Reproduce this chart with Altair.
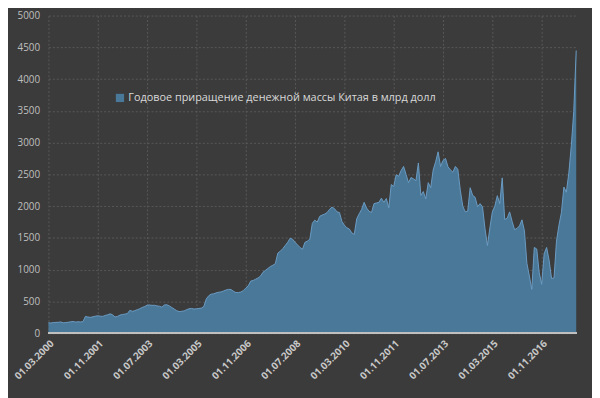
import altair as alt
import pandas as pd

series_name = "Годовое приращение денежной массы Китая в млрд долл"

# monthly values, 01.03.2000 ... 01.01.2018 (bn USD)
values = [
    165, 160, 168, 170, 172, 178, 163, 168, 172, 180, 185, 175, 180, 178, 182,
    265, 255, 250, 258, 268, 275, 268, 265, 280, 290, 305, 290, 255, 265, 285,
    295, 300, 310, 360, 345, 355, 370, 385, 405, 420, 440, 445, 438, 440, 430,
    425, 410, 445, 448, 430, 405, 380, 355, 340, 345, 350, 370, 385, 390, 380,
    385, 390, 395, 420, 540, 590, 615, 620, 635, 645, 650, 665, 680, 690, 688,
    660, 640, 640, 648, 670, 710, 745, 820, 830, 850, 870, 900, 960, 990, 1020,
    1050, 1070, 1095, 1260, 1290, 1330, 1380, 1430, 1495, 1480, 1430, 1390, 1350, 1320, 1430,
    1450, 1480, 1730, 1780, 1750, 1840, 1860, 1875, 1900, 1950, 1985, 1960, 1910, 1900, 1760,
    1700, 1660, 1640, 1580, 1555, 1800, 1880, 1950, 2060, 1970, 1920, 1900, 2040, 2050, 2060,
    2125, 2060, 2120, 1975, 2340, 2310, 2495, 2470, 2560, 2625, 2500, 2370, 2450, 2430, 2400,
    2680, 2170, 2230, 2115, 2370, 2290, 2570, 2700, 2855, 2625, 2720, 2750, 2620, 2570, 2535,
    2625, 2580, 2250, 2000, 1910, 1920, 2290, 2170, 2140, 1990, 2040, 1990, 1650, 1380, 1660,
    1910, 2000, 2165, 2040, 2445, 1790, 1810, 1910, 1760, 1630, 1650, 1690, 1785, 1610, 1100,
    900, 690, 1350, 1325, 950, 770, 1250, 1350, 1150, 860, 870, 1450, 1700, 1900, 2300,
    2220, 2520, 2950, 3490, 4450,
]

tick_labels = [
    "01.03.2000", "01.11.2001", "01.07.2003", "01.03.2005", "01.11.2006",
    "01.07.2008", "01.03.2010", "01.11.2011", "01.07.2013", "01.03.2015",
    "01.11.2016",
]

df = pd.DataFrame({
    "i": list(range(len(values))),
    "v": values,
    "series": [series_name] * len(values),
})

label_array = "[" + ",".join("'" + t + "'" for t in tick_labels) + "]"
tick_vals = [k * 20 for k in range(len(tick_labels))]

x = alt.X(
    "i:Q",
    scale=alt.Scale(domain=[0, len(values) - 1], nice=False, zero=False),
    axis=alt.Axis(
        values=tick_vals,
        labelExpr=label_array + "[round(datum.value/20)]",
        labelAngle=-45,
        labelAlign="right",
        labelBaseline="top",
        labelFontSize=10,
        labelFontWeight="bold",
        labelColor="#c8c8c8",
        labelPadding=5,
        labelFont="Open Sans",
        ticks=False,
        domain=False,
        grid=True,
        gridColor="#585858",
        gridDash=[2, 2],
        title=None,
        labelOverlap=False,
    ),
)
y = alt.Y(
    "v:Q",
    scale=alt.Scale(domain=[0, 5000], nice=False),
    axis=alt.Axis(
        values=list(range(0, 5001, 500)),
        format="d",
        labelFontSize=10,
        labelColor="#bfbfbf",
        labelFont="Open Sans",
        labelPadding=9,
        ticks=False,
        domain=False,
        grid=True,
        gridColor="#585858",
        gridDash=[2, 2],
        title=None,
    ),
)

area = alt.Chart(df).mark_area(opacity=1).encode(
    x=x,
    y=y,
    color=alt.Color(
        "series:N",
        scale=alt.Scale(range=["#4a7899"]),
        legend=alt.Legend(
            title=None,
            orient="none",
            legendX=67,
            legendY=78,
            symbolType="square",
            symbolSize=70,
            symbolStrokeWidth=0,
            labelColor="#d9d9d9",
            labelFontSize=11,
            labelFont="Open Sans",
            labelLimit=500,
            labelOffset=3,
            padding=0,
        ),
    ),
)

line = alt.Chart(df).mark_line(color="#6b9bc3", strokeWidth=1).encode(x=x, y=y)

base = alt.Chart(df).mark_rule(color="#c0c0c0", strokeWidth=1.5).encode(
    x=alt.value(0), x2=alt.value(535), y=alt.value(322)
)

chart = (
    alt.layer(area, line, base)
    .properties(
        width=535,
        height=322,
        background="#3b3b3b",
        autosize=alt.AutoSizeParams(type="none"),
        padding={"left": 41, "top": 5, "right": 16, "bottom": 63},
    )
    .configure_view(stroke=None)
)

chart.save("out.html", embed_options={"renderer": "svg", "actions": False})
